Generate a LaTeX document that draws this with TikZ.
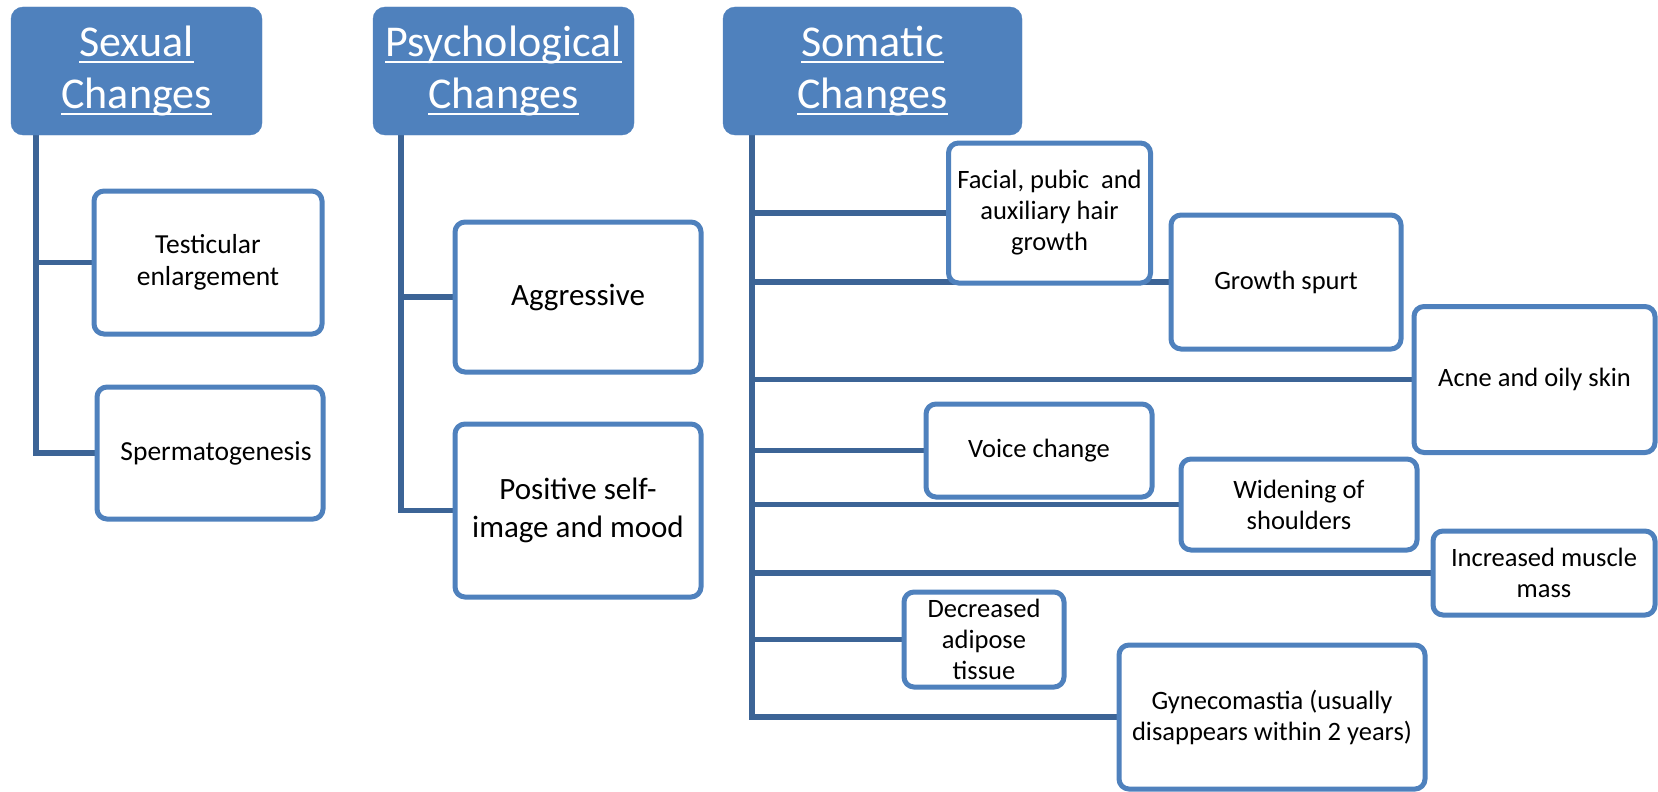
\documentclass[tikz,border=0pt]{standalone}
\usepackage{fontspec}
\setmainfont{Carlito}
\usetikzlibrary{backgrounds}
\newcommand\hdul[1]{\setbox0\hbox{#1}\rlap{\rule[-7pt]{\wd0}{2.8pt}}\box0}
\definecolor{hblue}{HTML}{4F81BD}
\definecolor{bblue}{HTML}{4F81BD}
\definecolor{lblue}{HTML}{3C6496}
\tikzset{
  hdr/.style={fill=hblue, draw=hblue, rounded corners=12pt, text=white, align=center,
    font=\fontsize{44}{52}\selectfont, inner sep=0pt},
  box/.style={draw=bblue, line width=5pt, fill=white, rounded corners=10pt, align=center, inner sep=0pt},
  sexf/.style={font=\fontsize{27.5}{32}\selectfont},
  psyf/.style={font=\fontsize{31}{38}\selectfont},
  somf/.style={font=\fontsize{26.5}{31}\selectfont},
  link/.style={draw=lblue, line width=5.5pt},
}
\begin{document}
\begin{tikzpicture}[x=1pt,y=-1pt]
\useasboundingbox (0,0) rectangle (1658,792);
% headers
\node[hdr, minimum width=251, minimum height=128] (sex) at (136.5,71) {\hdul{Sexual}\\\hdul{Changes}};
\node[hdr, minimum width=261, minimum height=128] (psy) at (503.5,71) {\hdul{Psychological}\\\hdul{Changes}};
\node[hdr, minimum width=299, minimum height=128] (som) at (872.5,71) {\hdul{Somatic}\\\hdul{Changes}};
% sexual
\node[box, sexf, minimum width=228, minimum height=143] (test) at (208,262.5) {Testicular\\enlargement};
\node[box, sexf, minimum width=226, minimum height=132] (sperm) at (210,453) {\hspace*{12pt}Spermatogenesis};
% psychological
\node[box, psyf, minimum width=246, minimum height=150] (aggr) at (578,297) {Aggressive};
\node[box, psyf, minimum width=246, minimum height=173] (pos) at (578,510.5) {Positive self-\\image and mood};
% somatic
\node[box, somf, minimum width=202, minimum height=140] (facial) at (1049.5,213) {Facial, pubic~ and\\auxiliary hair\\growth};
\node[box, somf, minimum width=230, minimum height=134] (growth) at (1286,282) {Growth spurt};
\node[box, somf, minimum width=241, minimum height=146] (acne) at (1534.5,379.5) {Acne and oily skin};
\node[box, somf, minimum width=226, minimum height=93] (voice) at (1039,450.5) {Voice change};
\node[box, somf, minimum width=236, minimum height=91] (widen) at (1299,504.5) {Widening of\\shoulders};
\node[box, somf, minimum width=222, minimum height=84] (incr) at (1544,573) {Increased muscle\\mass};
\node[box, somf, minimum width=160, minimum height=95] (decr) at (984,639.5) {Decreased\\adipose\\tissue};
\node[box, somf, minimum width=306, minimum height=144] (gyn) at (1272,717) {Gynecomastia (usually\\disappears within 2 years)};
% trunk tops
\coordinate (s0) at (36,135);
\coordinate (p0) at (401,135);
\coordinate (m0) at (752,135);
\begin{scope}[on background layer]
\draw[link] (s0) |- (sperm.west);
\draw[link] (s0 |- test.west) -- (test.west);
\draw[link] (p0) |- (pos.west);
\draw[link] (p0 |- aggr.west) -- (aggr.west);
\draw[link] (m0) |- (gyn.west);
\draw[link] (m0 |- facial.west) -- (facial.west);
\draw[link] (m0 |- growth.west) -- (growth.west);
\draw[link] (m0 |- acne.west) -- (acne.west);
\draw[link] (m0 |- voice.west) -- (voice.west);
\draw[link] (m0 |- widen.west) -- (widen.west);
\draw[link] (m0 |- incr.west) -- (incr.west);
\draw[link] (m0 |- decr.west) -- (decr.west);
\end{scope}
\end{tikzpicture}
\end{document}
